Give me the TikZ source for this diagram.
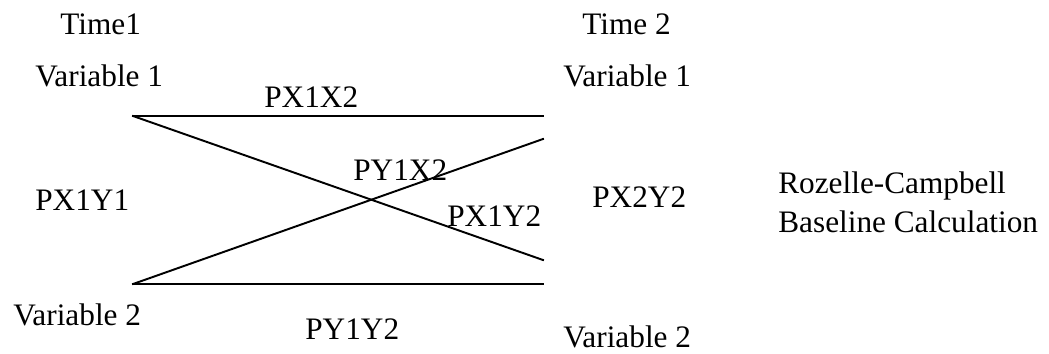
\documentclass[tikz,border=0pt]{standalone}
\usepackage{fontspec}
\setmainfont{Liberation Serif}
\usepackage{tikz}
\usetikzlibrary{positioning}

\begin{document}
\begin{tikzpicture}[
      x=0.02cm,y=-0.02cm,
      lbl/.style={inner sep=0pt,anchor=base west,font=\fontsize{17.8}{22.2}\selectfont},
      ln/.style={line width=1.1pt,line cap=rect}
    ]
    \useasboundingbox (0,0) rectangle (1049,353);

    % Time headers
    \node(t1)[lbl] at (60,34) {Time1};
    \node(t2)[lbl] at (582,34) {Time 2};

    % Variables at both times
    \node(v1a)[lbl] at (35,86) {Variable 1};
    \node(v1b)[lbl] at (563,86) {Variable 1};
    \node(v2a)[lbl] at (13,325) {Variable 2};
    \node(v2b)[lbl] at (563,347) {Variable 2};

    % Line end points
    \coordinate(xa) at (133,116);
    \coordinate(xb) at (543,116);
    \coordinate(ya) at (133,284);
    \coordinate(yb) at (543,284);
    \coordinate(xc) at (543,260);
    \coordinate(yc) at (543,139);

    % Correlations
    \draw[ln] (xa) -- (xb);
    \draw[ln] (ya) -- (yb);
    \draw[ln] (xa) -- (xc);
    \draw[ln] (ya) -- (yc);

    % Path labels
    \node(px1x2)[lbl] at (264,107) {PX1X2};
    \node(py1x2)[lbl] at (353,180) {PY1X2};
    \node(px1y2)[lbl] at (447,226) {PX1Y2};
    \node(px1y1)[lbl] at (35,210) {PX1Y1};
    \node(px2y2)[lbl] at (592,207) {PX2Y2};
    \node(py1y2)[lbl] at (305,339) {PY1Y2};

    % Caption
    \node(rc)[lbl,align=left] at (778,232) {Rozelle-Campbell\\Baseline Calculation};
  \end{tikzpicture}
\end{document}
